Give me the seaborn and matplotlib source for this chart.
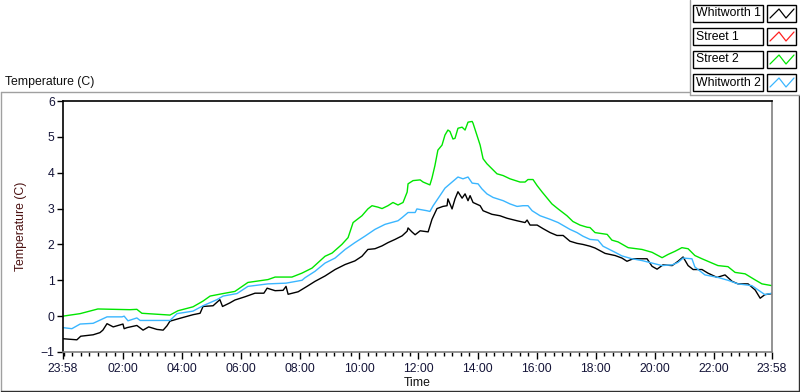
import numpy as np
import pandas as pd
import matplotlib
matplotlib.use("Agg")
import matplotlib.pyplot as plt
import seaborn as sns
from matplotlib.patches import Rectangle
from matplotlib.lines import Line2D

# hours after the 23:58 start
w1_t = [0, 0.47, 0.6, 1.02, 1.25, 1.35, 1.49, 1.7, 2.03, 2.07, 2.17, 2.5, 2.71, 2.9, 3.18, 3.39,
        3.52, 3.62, 3.96, 4.4, 4.64, 4.74, 5.08, 5.31, 5.4, 5.65, 5.82, 6.16, 6.5, 6.8, 6.91, 7.18,
        7.45, 7.55, 7.62, 7.96, 8.26, 8.53, 8.87, 9.21, 9.55, 9.88, 10.12, 10.32, 10.56, 10.8, 11.0,
        11.24, 11.48, 11.65, 11.68, 11.81, 11.92, 12.09, 12.36, 12.49, 12.66, 12.86, 13.0, 13.03,
        13.17, 13.27, 13.37, 13.51, 13.61, 13.71, 13.78, 13.88, 14.12, 14.22, 14.52, 14.79, 15.03,
        15.37, 15.64, 15.71, 15.81, 16.05, 16.25, 16.49, 16.72, 16.93, 17.16, 17.4, 17.6, 17.84,
        18.01, 18.35, 18.69, 18.92, 19.09, 19.3, 19.77, 19.94, 20.11, 20.31, 20.62, 20.82, 20.99,
        21.16, 21.33, 21.63, 21.83, 22.14, 22.41, 22.65, 22.85, 23.19, 23.43, 23.6, 23.76, 23.93, 24.0]
w1_v = [-0.63, -0.66, -0.56, -0.52, -0.46, -0.39, -0.21, -0.3, -0.22, -0.35, -0.32, -0.26, -0.39,
        -0.3, -0.37, -0.39, -0.27, -0.14, -0.06, 0.04, 0.08, 0.27, 0.29, 0.46, 0.27, 0.37, 0.45,
        0.54, 0.64, 0.64, 0.78, 0.71, 0.72, 0.83, 0.61, 0.68, 0.83, 0.97, 1.12, 1.3, 1.44, 1.54,
        1.67, 1.86, 1.88, 1.96, 2.05, 2.14, 2.24, 2.37, 2.46, 2.35, 2.27, 2.38, 2.35, 2.7, 3.0,
        3.06, 3.08, 3.27, 2.99, 3.27, 3.47, 3.29, 3.41, 3.22, 3.36, 3.17, 3.08, 2.94, 2.84, 2.8,
        2.73, 2.66, 2.61, 2.68, 2.54, 2.54, 2.44, 2.33, 2.25, 2.25, 2.09, 2.03, 2.0, 1.95, 1.9,
        1.75, 1.69, 1.62, 1.53, 1.6, 1.6, 1.39, 1.31, 1.43, 1.41, 1.53, 1.65, 1.41, 1.3, 1.3, 1.2,
        1.08, 1.15, 0.97, 0.9, 0.9, 0.73, 0.5, 0.6, 0.62, 0.63]

s1_t = []  # Street 1 has no visible trace
s1_v = []

s2_t = [0, 0.58, 1.18, 2.27, 2.5, 2.67, 3.62, 3.89, 4.4, 4.74, 4.98, 5.42, 5.82, 6.26, 6.94, 7.18,
        7.75, 8.09, 8.43, 8.87, 9.11, 9.44, 9.65, 9.82, 10.12, 10.32, 10.46, 10.66, 10.8, 11.0,
        11.17, 11.34, 11.51, 11.65, 11.68, 11.85, 12.09, 12.19, 12.42, 12.49, 12.59, 12.69, 12.83,
        12.93, 13.03, 13.1, 13.2, 13.27, 13.37, 13.51, 13.61, 13.71, 13.85, 13.88, 14.01, 14.12,
        14.22, 14.35, 14.52, 14.69, 14.9, 15.13, 15.47, 15.64, 15.74, 15.91, 16.05, 16.22, 16.38,
        16.55, 16.76, 17.06, 17.26, 17.5, 17.74, 17.84, 18.01, 18.42, 18.58, 18.79, 19.13, 19.6,
        19.94, 20.28, 20.48, 20.72, 20.95, 21.16, 21.39, 21.63, 21.97, 22.17, 22.51, 22.75, 23.09,
        23.43, 23.66, 24.0]
s2_v = [0.0, 0.07, 0.2, 0.18, 0.19, 0.08, 0.03, 0.15, 0.26, 0.42, 0.56, 0.63, 0.69, 0.94, 1.02,
        1.09, 1.09, 1.2, 1.34, 1.67, 1.76, 2.0, 2.19, 2.61, 2.8, 2.99, 3.08, 3.04, 3.0, 3.08, 3.17,
        3.1, 3.17, 3.46, 3.69, 3.78, 3.8, 3.74, 3.66, 3.85, 4.2, 4.63, 4.77, 5.05, 5.19, 5.15, 4.94,
        4.96, 5.24, 5.27, 5.19, 5.41, 5.43, 5.38, 5.05, 4.77, 4.39, 4.25, 4.11, 3.97, 3.92, 3.83,
        3.74, 3.74, 3.81, 3.81, 3.64, 3.46, 3.3, 3.13, 2.99, 2.8, 2.64, 2.54, 2.48, 2.47, 2.33,
        2.28, 2.12, 2.07, 1.91, 1.86, 1.78, 1.63, 1.72, 1.81, 1.91, 1.88, 1.69, 1.6, 1.48, 1.41,
        1.38, 1.22, 1.18, 1.01, 0.9, 0.85]

w2_t = [0, 0.3, 0.58, 1.02, 1.49, 2.0, 2.07, 2.2, 2.5, 2.61, 3.62, 3.86, 4.4, 4.74, 5.21, 5.42,
        5.89, 6.26, 6.94, 7.55, 8.09, 8.19, 8.53, 8.87, 9.21, 9.55, 9.88, 10.22, 10.56, 10.9,
        11.34, 11.48, 11.68, 11.92, 11.98, 12.32, 12.42, 12.53, 12.76, 12.93, 13.1, 13.37, 13.54,
        13.71, 13.85, 14.05, 14.18, 14.35, 14.56, 14.9, 15.13, 15.37, 15.57, 15.74, 15.88, 16.15,
        16.49, 16.76, 17.16, 17.4, 17.6, 17.84, 18.11, 18.28, 18.69, 18.92, 19.26, 19.6, 19.94,
        20.28, 20.62, 20.82, 20.99, 21.29, 21.39, 21.73, 22.17, 22.51, 22.85, 23.32, 23.53, 23.76, 24.0]
w2_v = [-0.32, -0.35, -0.22, -0.2, -0.02, -0.02, 0.0, -0.13, -0.05, -0.12, -0.12, 0.07, 0.14,
        0.29, 0.46, 0.56, 0.63, 0.83, 0.9, 0.92, 1.0, 1.07, 1.25, 1.48, 1.62, 1.86, 2.05, 2.23,
        2.42, 2.56, 2.66, 2.75, 2.89, 2.89, 2.99, 2.94, 2.92, 3.08, 3.36, 3.57, 3.69, 3.88, 3.83,
        3.88, 3.71, 3.69, 3.55, 3.41, 3.31, 3.22, 3.13, 3.06, 3.08, 3.08, 2.94, 2.8, 2.7, 2.61,
        2.42, 2.33, 2.23, 2.14, 2.12, 1.95, 1.78, 1.68, 1.6, 1.55, 1.48, 1.41, 1.43, 1.5, 1.62,
        1.6, 1.37, 1.15, 1.08, 1.0, 0.9, 0.85, 0.73, 0.6, 0.64]

names = ["Whitworth 1", "Street 1", "Street 2", "Whitworth 2"]
colors = ["#000000", "#ff2020", "#00e600", "#3ab6ff"]
series = [(w1_t, w1_v), (s1_t, s1_v), (s2_t, s2_v), (w2_t, w2_v)]

x_labels = ["23:58", "02:00", "04:00", "06:00", "08:00", "10:00", "12:00",
            "14:00", "16:00", "18:00", "20:00", "22:00", "23:58"]

sns.set_style("white")
plt.rcParams["font.family"] = ["Liberation Sans", "DejaVu Sans"]

W, H = 800, 392
fig = plt.figure(figsize=(8, 3.92), dpi=100)


def fx(px):
    return px / W


def fy(py):
    return 1 - py / H


# panel frame
fig.add_artist(Line2D([fx(1), fx(690)], [fy(92), fy(92)], color="#a0a0a0", lw=1))
fig.add_artist(Line2D([fx(1), fx(1)], [fy(92), fy(391)], color="#a0a0a0", lw=1))
fig.add_artist(Line2D([fx(1), fx(799)], [fy(391), fy(391)], color="#303030", lw=1))
fig.add_artist(Line2D([fx(799), fx(799)], [fy(95), fy(391)], color="#303030", lw=1))
fig.add_artist(Line2D([fx(690), fx(690)], [fy(0), fy(95)], color="#a0a0a0", lw=1))
fig.add_artist(Line2D([fx(690), fx(799)], [fy(95), fy(95)], color="#a0a0a0", lw=1))

fig.text(fx(5), fy(82), "Temperature (C)", fontsize=8.8, color="#101010", va="center", ha="left")

ax = fig.add_axes([fx(63), fy(352), fx(772) - fx(63), fy(101) - fy(352)])
for (t, v), c in zip(series, colors):
    if len(t):
        sns.lineplot(x=t, y=v, ax=ax, color=c, lw=1.0, legend=False)

ax.set_xlim(0, 24)
ax.set_ylim(-1, 6)
major = [0] + [2 + 2 / 60 + 2 * k for k in range(11)] + [24]
ax.set_xticks(major)
ax.set_xticklabels(x_labels)
minor = [m for m in np.arange(2 + 2 / 60 - 2, 24.01, 2 / 7) if 0 < m < 24]
ax.set_xticks(minor, minor=True)
ax.set_yticks(range(-1, 7))
ax.tick_params(axis="both", which="major", labelsize=8.8, labelcolor="#141438",
               direction="out", length=4, width=1, color="#000000")
ax.tick_params(axis="x", which="major", length=5, pad=3)
ax.tick_params(axis="x", which="minor", bottom=True, length=3, width=1, color="#000000")
ax.tick_params(axis="y", left=True, pad=2)
ax.tick_params(axis="x", bottom=True)
ax.set_xlabel("Time", fontsize=8.8, color="#101010", labelpad=1)
ax.set_ylabel("Temperature (C)", fontsize=8.8, color="#4a1010", labelpad=10)
ax.grid(False)
for side in ["left", "top"]:
    ax.spines[side].set_color("#000000")
    ax.spines[side].set_linewidth(1.2)
for side in ["right", "bottom"]:
    ax.spines[side].set_color("#808080")
    ax.spines[side].set_linewidth(1.2)

# legend boxes
rows = [5, 28, 51, 74]
for name, c, top in zip(names, colors, rows):
    fig.add_artist(Rectangle((fx(693), fy(top + 17)), fx(763) - fx(693), fy(top) - fy(top + 17),
                             fill=False, ec="#000000", lw=1))
    fig.text(fx(696), fy(top + 8.5), name, fontsize=8.8, va="center", ha="left", color="#000000")
    fig.add_artist(Rectangle((fx(767), fy(top + 17)), fx(796) - fx(767), fy(top) - fy(top + 17),
                             fill=False, ec="#000000", lw=1))
    xs = [fx(p) for p in (770, 779, 786, 794)]
    ys = [fy(p) for p in (top + 13, top + 4, top + 13, top + 4)]
    fig.add_artist(Line2D(xs, ys, color=c, lw=0.9))

fig.savefig("out.png", dpi=100)
